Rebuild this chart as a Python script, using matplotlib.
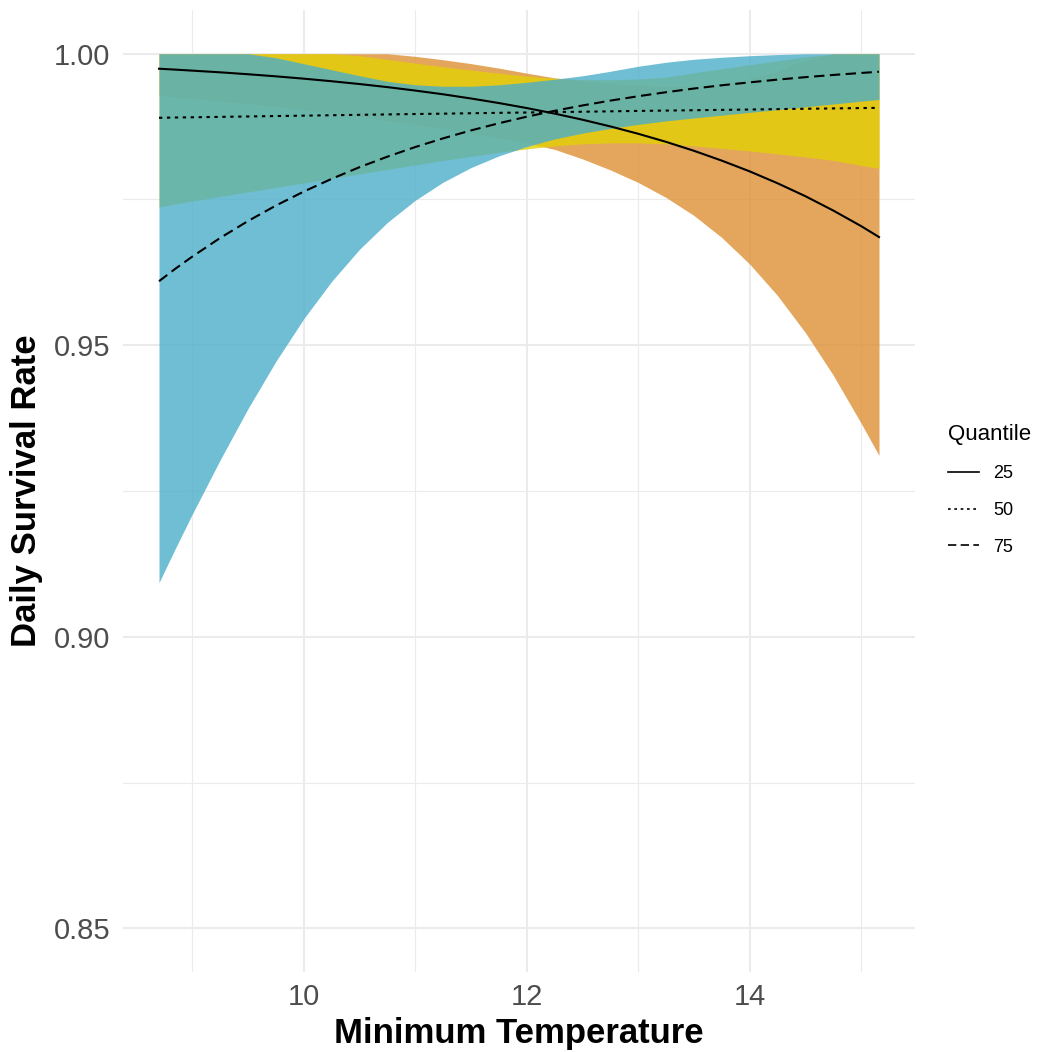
import matplotlib
matplotlib.use("Agg")
import matplotlib.pyplot as plt
from matplotlib.lines import Line2D
from matplotlib.ticker import FixedLocator

# minimum temperature grid
temp = [8.7, 8.85, 9.0, 9.25, 9.5, 9.75, 10.0, 10.25, 10.5, 10.75, 11.0, 11.25, 11.5, 11.75,
        12.0, 12.25, 12.5, 12.75, 13.0, 13.25, 13.5, 13.75, 14.0, 14.25, 14.5, 14.75, 15.0, 15.16]

# fitted daily survival rate per quantile
q25_fit = [0.99743, 0.99727, 0.99710, 0.99681, 0.99648, 0.99612, 0.99572, 0.99528, 0.99480,
           0.99427, 0.99368, 0.99304, 0.99232, 0.99154, 0.99068, 0.98973, 0.98868, 0.98753,
           0.98627, 0.98488, 0.98335, 0.98166, 0.97982, 0.97778, 0.97556, 0.97310, 0.97043, 0.96856]
q50_fit = [0.98901, 0.98906, 0.98910, 0.98917, 0.98924, 0.98931, 0.98938, 0.98945, 0.98952,
           0.98959, 0.98966, 0.98972, 0.98979, 0.98986, 0.98992, 0.98999, 0.99005, 0.99012,
           0.99019, 0.99025, 0.99031, 0.99037, 0.99043, 0.99050, 0.99056, 0.99062, 0.99068, 0.99072]
q75_fit = [0.96098, 0.96317, 0.96522, 0.96842, 0.97132, 0.97397, 0.97637, 0.97855, 0.98055,
           0.98235, 0.98400, 0.98549, 0.98685, 0.98808, 0.98920, 0.99021, 0.99113, 0.99196,
           0.99271, 0.99340, 0.99403, 0.99459, 0.99509, 0.99556, 0.99598, 0.99636, 0.99670, 0.99691]

# confidence ribbons (upper bound capped at 1)
q25_lo = [0.99278, 0.99253, 0.99227, 0.99184, 0.99141, 0.99089, 0.99038, 0.98978, 0.98918,
          0.98849, 0.98780, 0.98711, 0.98634, 0.98557, 0.98471, 0.98359, 0.98196, 0.98007,
          0.97792, 0.97534, 0.97225, 0.96847, 0.96392, 0.95851, 0.95215, 0.94485, 0.93660, 0.93110]
q25_hi = [1.0, 1.0, 1.0, 1.0, 1.0, 1.0, 1.0, 1.0, 1.0, 1.0, 0.99955, 0.99897, 0.99830, 0.99753,
          0.99667, 0.99586, 0.99540, 0.99498, 0.99462, 0.99442, 0.99445, 0.99486, 0.99574,
          0.99706, 0.99899, 1.0, 1.0, 1.0]
q50_lo = [0.97371, 0.97423, 0.97474, 0.97552, 0.97629, 0.97706, 0.97784, 0.97861, 0.97938,
          0.98015, 0.98093, 0.98170, 0.98239, 0.98308, 0.98368, 0.98419, 0.98454, 0.98471,
          0.98471, 0.98454, 0.98419, 0.98376, 0.98333, 0.98282, 0.98230, 0.98170, 0.98084, 0.98033]
q50_hi = [1.0, 1.0, 1.0, 1.0, 1.0, 1.0, 1.0, 1.0, 0.99966, 0.99902, 0.99838, 0.99775, 0.99720,
          0.99665, 0.99615, 0.99577, 0.99557, 0.99553, 0.99567, 0.99598, 0.99674, 0.99742,
          0.99811, 0.99880, 0.99948, 0.99991, 1.0, 1.0]
q75_lo = [0.90928, 0.91528, 0.92108, 0.93038, 0.93918, 0.94728, 0.95458, 0.96098, 0.96648,
          0.97108, 0.97488, 0.97798, 0.98048, 0.98248, 0.98408, 0.98538, 0.98638, 0.98718,
          0.98788, 0.98848, 0.98898, 0.98946, 0.98994, 0.99042, 0.99090, 0.99138, 0.99186, 0.99217]
q75_hi = [1.0, 1.0, 1.0, 1.0, 1.0, 0.99931, 0.99828, 0.99725, 0.99622, 0.99527, 0.99467,
          0.99442, 0.99442, 0.99467, 0.99510, 0.99562, 0.99622, 0.99699, 0.99785, 0.99854,
          0.99905, 0.99940, 0.99966, 0.99986, 1.0, 1.0, 1.0, 1.0]

labels = ["25", "50", "75"]
fills = ["#DD9033", "#E4D005", "#4CAEC9"]
styles = ["-", (0, (1.6, 2.2)), (0, (5.0, 2.6))]

font = ["Liberation Sans", "DejaVu Sans"]

fig = plt.figure(figsize=(10.44, 10.52), dpi=100)
ax = fig.add_axes([123 / 1044, 1 - 972 / 1052, (915 - 123) / 1044, (972 - 10) / 1052])

series = [(q25_fit, q25_lo, q25_hi), (q50_fit, q50_lo, q50_hi), (q75_fit, q75_lo, q75_hi)]
for (fit, lo, hi), col in zip(series, fills):
    ax.fill_between(temp, lo, hi, color=col, alpha=0.8, lw=0, zorder=2)
for (fit, lo, hi), ls in zip(series, styles):
    ax.plot(temp, fit, color="black", lw=1.5, linestyle=ls, zorder=3)

ax.set_xlim(8.377, 15.483)
ax.set_ylim(0.8425, 1.0075)
ax.xaxis.set_major_locator(FixedLocator([10, 12, 14]))
ax.xaxis.set_minor_locator(FixedLocator([9, 11, 13, 15]))
ax.yaxis.set_major_locator(FixedLocator([0.85, 0.90, 0.95, 1.00]))
ax.yaxis.set_minor_locator(FixedLocator([0.875, 0.925, 0.975]))
ax.set_yticklabels(["0.85", "0.90", "0.95", "1.00"])
ax.set_xticklabels(["10", "12", "14"])
ax.grid(which="major", color="#EBEBEB", lw=1.5, zorder=0)
ax.grid(which="minor", color="#EBEBEB", lw=0.8, zorder=0)
ax.set_axisbelow(True)
for s in ax.spines.values():
    s.set_visible(False)
ax.tick_params(which="both", length=0)
ax.tick_params(axis="y", pad=9, labelsize=21, labelcolor="#4D4D4D")
ax.tick_params(axis="x", pad=8, labelsize=21, labelcolor="#4D4D4D")
for t in ax.get_xticklabels() + ax.get_yticklabels():
    t.set_family(font)

ax.set_xlabel("Minimum Temperature", fontsize=25, fontweight="bold", family=font, labelpad=4)
ax.set_ylabel("Daily Survival Rate", fontsize=25, fontweight="bold", family=font, labelpad=8)

handles = [Line2D([], [], color="black", lw=1.2, linestyle=ls) for ls in styles]
leg = fig.legend(handles, labels, title="Quantile", loc="center left",
                 bbox_to_anchor=(932 / 1044, 1 - 490 / 1052), frameon=False,
                 handlelength=1.7, handletextpad=0.8, labelspacing=1.1,
                 prop={"family": font, "size": 13},
                 title_fontproperties={"family": font, "size": 16})
leg._legend_box.align = "left"

fig.savefig("out.png", dpi=100)
